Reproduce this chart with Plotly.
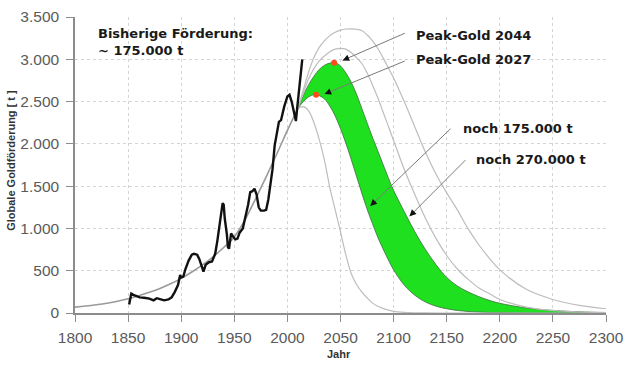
import plotly.graph_objects as go

# ---- data ----
TREND_YEARS = [1800, 1810, 1820, 1830, 1840, 1850, 1860, 1870, 1880, 1890, 1900,
               1910, 1920, 1930, 1940, 1950, 1960, 1970, 1980, 1990, 2000, 2010]
TREND_VALUES = [70, 82, 97, 115, 138, 168, 205, 245, 290, 345, 410,
                485, 570, 665, 775, 900, 1100, 1350, 1610, 1880, 2160, 2420]

SCEN_YEARS = [2010, 2015, 2020, 2025, 2030, 2035, 2040, 2045, 2050, 2055, 2060, 2065,
              2070, 2075, 2080, 2085, 2090, 2095, 2100, 2110, 2120, 2130, 2140, 2150,
              2160, 2170, 2180, 2190, 2200, 2225, 2250, 2275, 2300]
SCEN_SMALL = [2420, 2440, 2390, 2250, 2050, 1800, 1480, 1220, 960, 690, 470, 340,
              250, 180, 120, 80, 55, 35, 20, 8, 3, 1, 0, 0,
              0, 0, 0, 0, 0, 0, 0, 0, 0]
SCEN_175K = [2420, 2500, 2555, 2580, 2570, 2530, 2445, 2330, 2180, 2010, 1820, 1620,
             1420, 1230, 1060, 900, 760, 630, 510, 330, 210, 130, 80, 50,
             30, 18, 11, 6, 4, 1, 0, 0, 0]
SCEN_270K = [2420, 2570, 2700, 2800, 2880, 2930, 2955, 2960, 2920, 2840, 2730, 2590,
             2420, 2250, 2080, 1920, 1760, 1600, 1450, 1200, 960, 750, 570, 420,
             320, 250, 195, 150, 115, 60, 30, 14, 6]
SCEN_HIGH1 = [2420, 2600, 2770, 2890, 2980, 3040, 3090, 3120, 3130, 3120, 3080, 3020,
              2950, 2840, 2700, 2550, 2380, 2210, 2040, 1700, 1400, 1120, 880, 680,
              520, 400, 300, 230, 160, 70, 30, 12, 5]
SCEN_HIGH2 = [2420, 2640, 2850, 3020, 3140, 3220, 3280, 3320, 3345, 3358, 3360, 3355,
              3340, 3290, 3220, 3130, 3020, 2900, 2780, 2500, 2200, 1900, 1640, 1420,
              1220, 1000, 810, 650, 510, 280, 160, 90, 50]

HIST_YEARS = [1851, 1852, 1853, 1855, 1858, 1861, 1865, 1870, 1874, 1877, 1880, 1884,
              1888, 1891, 1894, 1897, 1899, 1900, 1902, 1904, 1907, 1910, 1912, 1915,
              1917, 1919, 1921, 1923, 1926, 1929, 1932, 1934, 1936, 1938, 1939, 1940,
              1941, 1943, 1944, 1945, 1947, 1949, 1951, 1953, 1955, 1958, 1961, 1963,
              1965, 1967, 1969, 1971, 1973, 1975, 1978, 1980, 1982, 1984, 1986, 1988,
              1990, 1992, 1994, 1997, 2000, 2002, 2004, 2006, 2008, 2009, 2011, 2012, 2014]
HIST_VALUES = [100, 200, 230, 215, 200, 185, 180, 170, 150, 175, 165, 150,
               160, 185, 250, 330, 450, 420, 430, 520, 620, 690, 700, 690,
               640, 560, 490, 570, 600, 610, 700, 850, 1020, 1200, 1300, 1280,
               1120, 930, 780, 760, 940, 900, 870, 880, 950, 1000, 1150, 1280,
               1430, 1440, 1470, 1400, 1250, 1210, 1210, 1220, 1340, 1530, 1700, 1980,
               2150, 2260, 2280, 2440, 2560, 2580, 2500, 2400, 2270, 2400, 2650, 2750, 3000]

PEAK_YEARS = [2027, 2044]
PEAK_VALUES = [2582, 2960]

X_TICKS = [1800, 1850, 1900, 1950, 2000, 2050, 2100, 2150, 2200, 2250, 2300]
Y_TICKS = [0, 500, 1000, 1500, 2000, 2500, 3000, 3500]
Y_TICK_LABELS = ["0", "500", "1.000", "1.500", "2.000", "2.500", "3.000", "3.500"]

GRAY = "#bdbdbd"
GREEN = "#1fe01f"

fig = go.Figure()

# green band between 175.000 t and 270.000 t scenarios
fig.add_trace(go.Scatter(x=SCEN_YEARS, y=SCEN_175K, mode="lines",
                         line=dict(color="#3c6e3c", width=0.8, shape="spline"),
                         hoverinfo="skip", showlegend=False))
fig.add_trace(go.Scatter(x=SCEN_YEARS, y=SCEN_270K, mode="lines", fill="tonexty",
                         fillcolor=GREEN,
                         line=dict(color="#3c6e3c", width=0.8, shape="spline"),
                         hoverinfo="skip", showlegend=False))

for vals in (SCEN_SMALL, SCEN_HIGH1, SCEN_HIGH2):
    fig.add_trace(go.Scatter(x=SCEN_YEARS, y=vals, mode="lines",
                             line=dict(color=GRAY, width=1.2, shape="spline"),
                             hoverinfo="skip", showlegend=False))

fig.add_trace(go.Scatter(x=TREND_YEARS, y=TREND_VALUES, mode="lines",
                         line=dict(color="#9a9a9a", width=1.6, shape="spline"),
                         hoverinfo="skip", showlegend=False))

fig.add_trace(go.Scatter(x=HIST_YEARS, y=HIST_VALUES, mode="lines",
                         line=dict(color="#111111", width=2.4),
                         hoverinfo="skip", showlegend=False))

fig.add_trace(go.Scatter(x=PEAK_YEARS, y=PEAK_VALUES, mode="markers",
                         marker=dict(color="#ff4a1c", size=6),
                         hoverinfo="skip", showlegend=False))

TXT_FONT = dict(family="DejaVu Sans", size=13, color="#1a1a1a")

# arrows: (start year, start value, tip year, tip value)
ARROWS = [(2112, 3316, 2052, 2987),
          (2112, 2987, 2035, 2590),
          (2155, 2195, 2078, 1266),
          (2169, 1825, 2115, 1144)]
for sx, sy, tx, ty in ARROWS:
    fig.add_annotation(x=tx, y=ty, ax=sx, ay=sy, xref="x", yref="y",
                       axref="x", ayref="y", text="", showarrow=True,
                       arrowhead=0, arrowwidth=1, arrowcolor="#7a7a7a")
    dx, dy = sx - tx, sy - ty
    fig.add_annotation(x=tx, y=ty, ax=tx + dx * 0.08, ay=ty + dy * 0.08,
                       xref="x", yref="y", axref="x", ayref="y", text="",
                       showarrow=True, arrowhead=2, arrowsize=1.1,
                       arrowwidth=1.2, arrowcolor="#111111")

LABELS = [("<b>Peak-Gold 2044</b>", 2119, 3285),
          ("<b>Peak-Gold 2027</b>", 2119, 2999),
          ("<b>noch 175.000 t</b>", 2163, 2184),
          ("<b>noch 270.000 t</b>", 2176, 1821)]
for txt, lx, ly in LABELS:
    fig.add_annotation(x=lx, y=ly, xref="x", yref="y", text=txt, showarrow=False,
                       xanchor="left", yanchor="middle", font=TXT_FONT)

fig.add_annotation(x=1820, y=3207, xref="x", yref="y",
                   text="<b>Bisherige Förderung:</b><br><b>~ 175.000 t</b>",
                   showarrow=False, xanchor="left", yanchor="middle", align="left",
                   font=TXT_FONT)

fig.add_annotation(x=-0.137, y=0.515, xref="paper", yref="paper",
                   text="<b>Globale Goldförderung [ t ]</b>", textangle=-90,
                   showarrow=False, font=dict(family="Liberation Sans", size=11,
                                              color="#333333"))
fig.add_annotation(x=0.497, y=-0.138, xref="paper", yref="paper",
                   text="<b>Jahr</b>", showarrow=False, yanchor="middle",
                   font=dict(family="Liberation Sans", size=11, color="#333333"))

AX_STYLE = dict(showgrid=True, gridcolor="#d4d4d4", griddash="dot", gridwidth=1,
                showline=True, linecolor="#8c8c8c", linewidth=1.5,
                ticks="outside", ticklen=7, tickcolor="#8c8c8c",
                tickfont=dict(family="Liberation Sans", size=15.5, color="#5a5a5a"),
                ticklabeloverflow="allow", zeroline=False)
fig.update_xaxes(range=[1800, 2300], tickvals=X_TICKS, ticklabelstandoff=3, **AX_STYLE)
fig.update_yaxes(range=[0, 3500], tickvals=Y_TICKS, ticktext=Y_TICK_LABELS,
                 ticklabelstandoff=4, **AX_STYLE)

fig.update_layout(width=632, height=367, margin=dict(l=75, r=20, t=8, b=54),
                  plot_bgcolor="white", paper_bgcolor="white", showlegend=False)

fig.write_html("out.html", config={"displayModeBar": False},
               post_script="document.body.style.margin='0px';"
                           "document.body.style.overflow='hidden';")
